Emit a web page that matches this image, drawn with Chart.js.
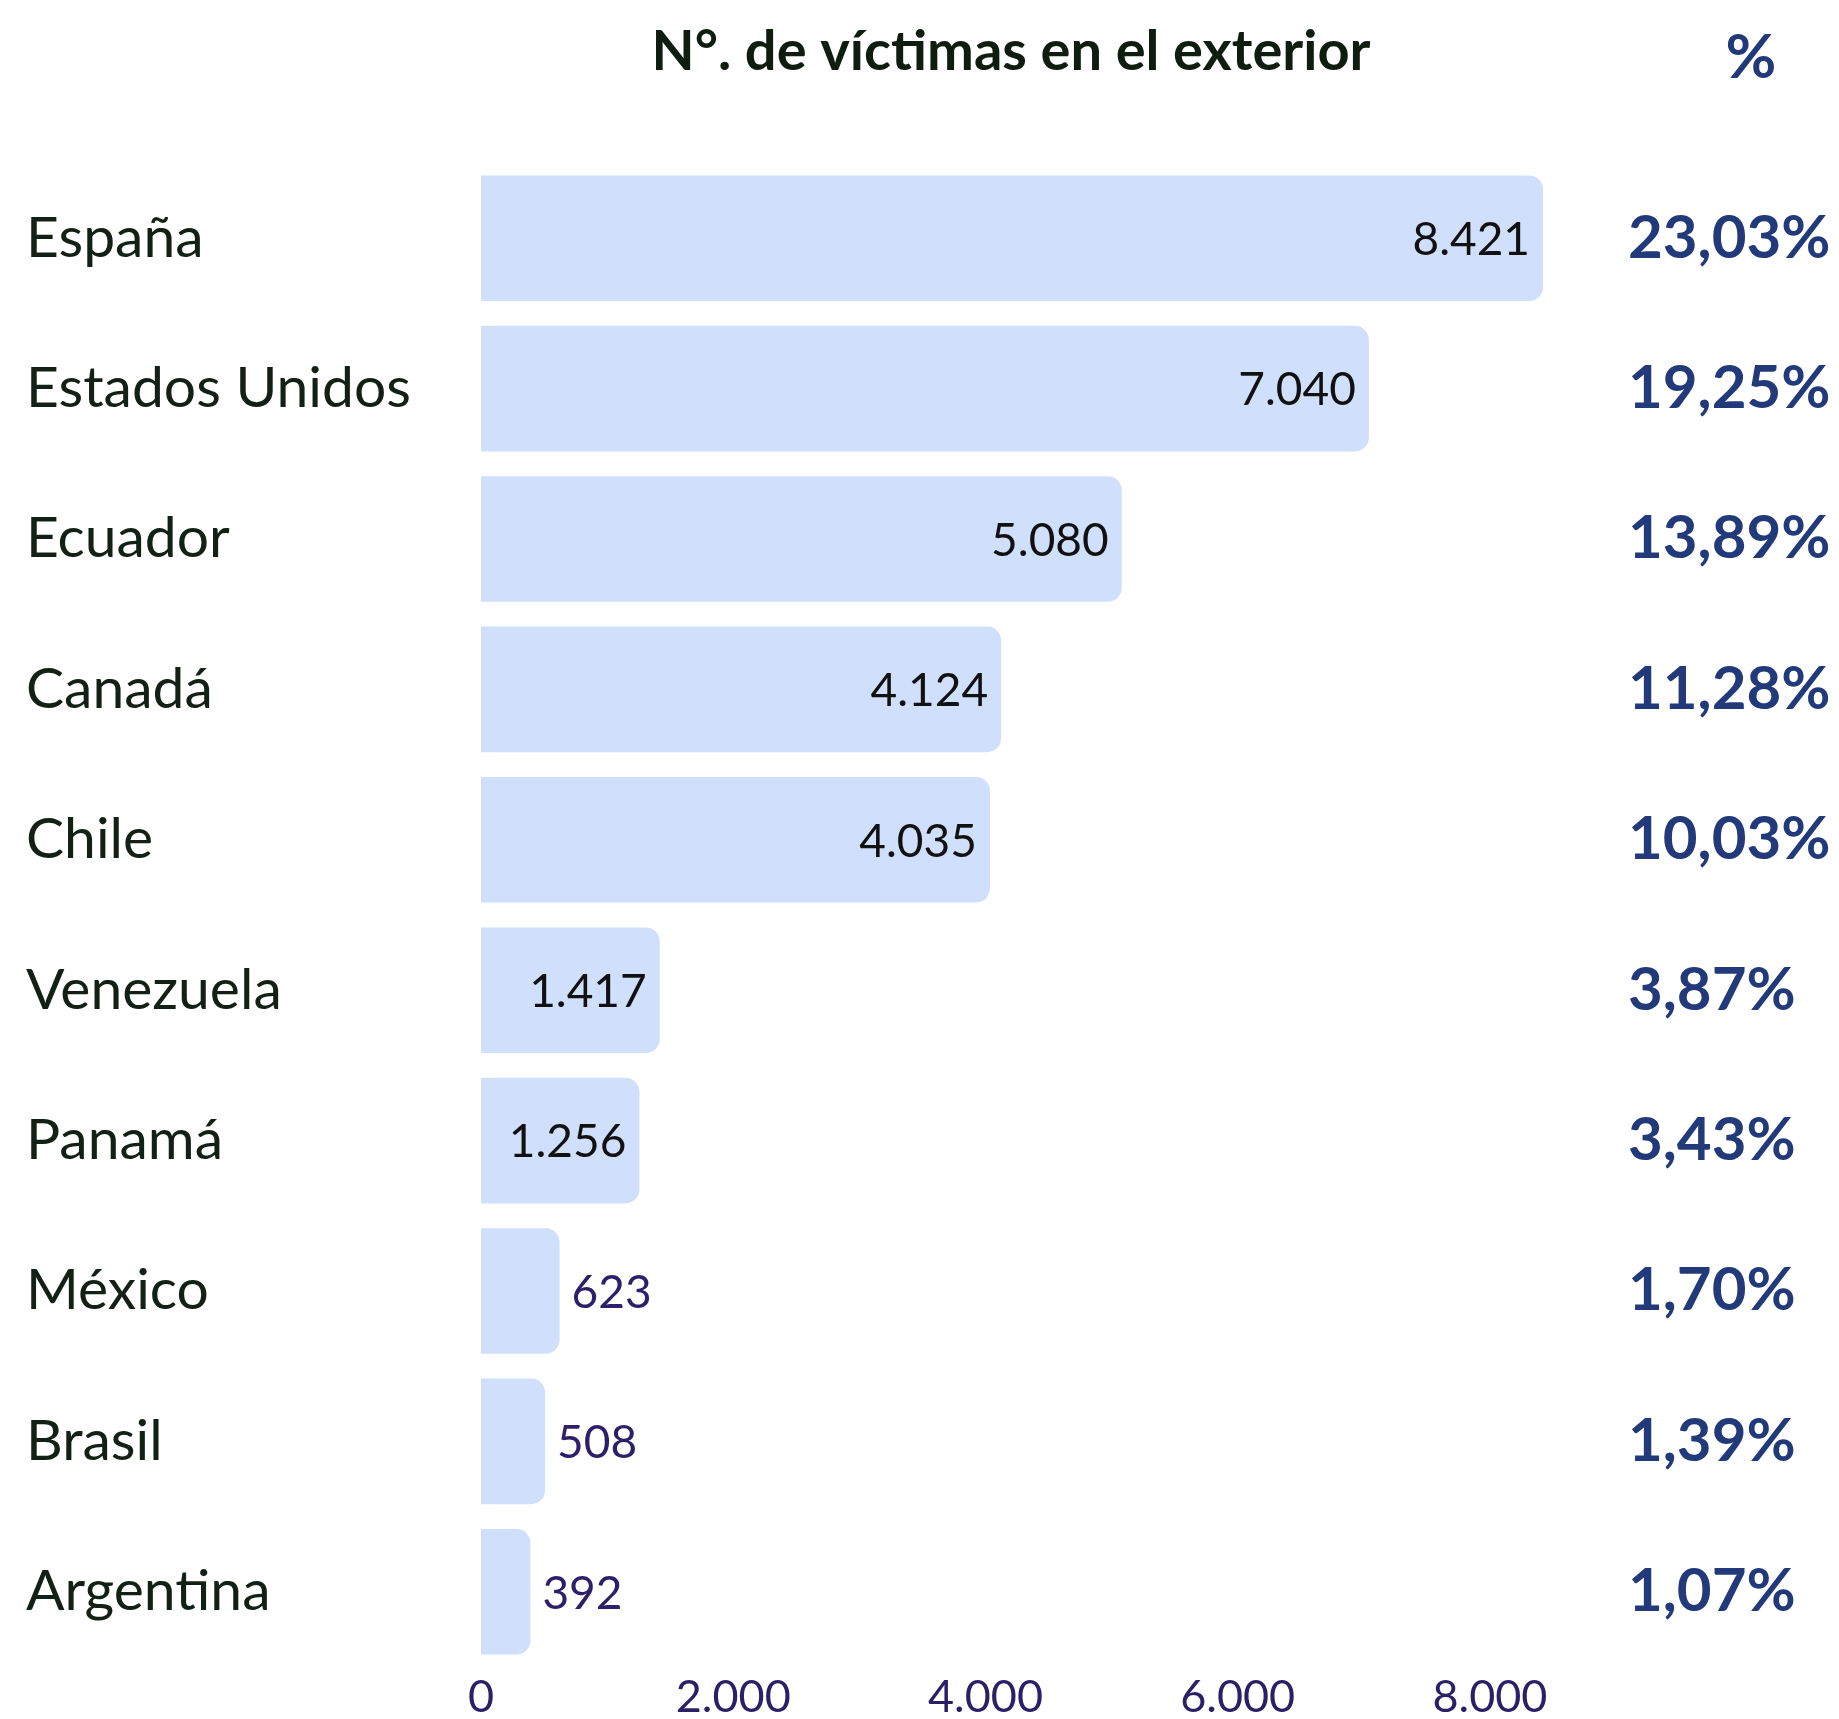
<!DOCTYPE html>
<html><head><meta charset="utf-8">
<script src="https://cdn.jsdelivr.net/npm/chart.js@4.4.1/dist/chart.umd.min.js"></script>
<style>html,body{margin:0;padding:0;background:#fff;}#wrap{width:1839px;height:1719px;position:relative;}</style>
</head><body><div id="wrap"><canvas id="c" width="1839" height="1719"></canvas></div>
<script>
const countries = ['España','Estados Unidos','Ecuador','Canadá','Chile','Venezuela','Panamá','México','Brasil','Argentina'];
const victims = [8421,7040,5080,4124,4035,1417,1256,623,508,392];
const percentLabels = ['23,03%','19,25%','13,89%','11,28%','10,03%','3,87%','3,43%','1,70%','1,39%','1,07%'];
const xTicks = [0,2000,4000,6000,8000];
const chartTitle = 'N°. de víctimas en el exterior';
const percentHeader = '%';

const FONT = 'Lato';
const fmt = n => String(n).replace(/\B(?=(\d{3})+(?!\d))/g, '.');

const labelPlugin = {
  id: 'valueLabels',
  afterDatasetsDraw(chart) {
    const ctx = chart.ctx;
    const meta = chart.getDatasetMeta(0);
    ctx.save();
    ctx.font = `400 46px ${FONT}`;
    ctx.textBaseline = 'middle';
    meta.data.forEach((bar, i) => {
      const txt = fmt(victims[i]);
      const w = ctx.measureText(txt).width;
      const pad = 13;
      const barW = bar.x - bar.base;
      if (w + 2 * pad <= barW) {
        ctx.fillStyle = '#111111';
        ctx.textAlign = 'right';
        ctx.fillText(txt, bar.x - pad, bar.y + 2);
      } else {
        ctx.fillStyle = '#2e2068';
        ctx.textAlign = 'left';
        ctx.fillText(txt, bar.x + 12, bar.y + 2);
      }
    });
    ctx.restore();
  }
};

const headerPlugin = {
  id: 'headers',
  afterDraw(chart) {
    const ctx = chart.ctx;
    const ca = chart.chartArea;
    ctx.save();
    ctx.textBaseline = 'middle';
    ctx.textAlign = 'center';
    ctx.fillStyle = '#0f1d10';
    ctx.font = `700 56px ${FONT}`;
    ctx.fillText(chartTitle, 1011, 52);
    ctx.fillStyle = '#233a7a';
    ctx.font = `700 62px ${FONT}`;
    ctx.fillText(percentHeader, 1751, 58);
    ctx.restore();
  }
};

new Chart(document.getElementById('c'), {
  type: 'bar',
  data: {
    labels: countries,
    datasets: [{
      data: victims,
      backgroundColor: '#d0dffc',
      borderRadius: 14,
      borderSkipped: 'start',
      barPercentage: 0.835,
      categoryPercentage: 1.0,
      xAxisID: 'x',
      yAxisID: 'y'
    }]
  },
  options: {
    indexAxis: 'y',
    responsive: false,
    animation: false,
    devicePixelRatio: 1,
    layout: { padding: { top: 163, left: 26, right: 0, bottom: 0 } },
    plugins: { legend: { display: false }, tooltip: { enabled: false }, title: { display: false } },
    scales: {
      x: {
        type: 'linear', position: 'bottom', min: 0, max: 8500,
        afterBuildTicks: s => { s.ticks = xTicks.map(v => ({ value: v })); },
        afterFit: s => { s.height = 52; },
        grid: { display: false, drawTicks: false },
        border: { display: false },
        ticks: { callback: v => fmt(v), color: '#2b1f66', padding: 3, maxRotation: 0,
                 font: { family: FONT, size: 45, weight: '400' } }
      },
      y: {
        type: 'category', position: 'left',
        afterFit: s => { s.width = 455; s.paddingTop = 0; s.paddingBottom = 0; },
        grid: { display: false, drawTicks: false },
        border: { display: false },
        ticks: { crossAlign: 'far', padding: 0, color: '#132015',
                 font: { family: FONT, size: 57, weight: '400' } }
      },
      y2: {
        type: 'category', position: 'right', labels: percentLabels, offset: true,
        afterFit: s => { s.width = 286; s.paddingTop = 0; s.paddingBottom = 0; },
        grid: { display: false, drawTicks: false },
        border: { display: false },
        ticks: { crossAlign: 'near', padding: 75, color: '#233a7a',
                 font: { family: FONT, size: 60, weight: '700' } }
      }
    }
  },
  plugins: [labelPlugin, headerPlugin]
});
</script></body></html>
